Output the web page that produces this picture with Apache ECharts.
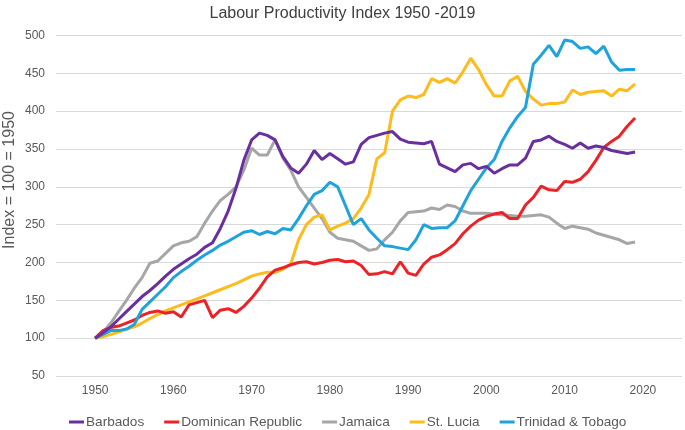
<!DOCTYPE html>
<html><head><meta charset="utf-8">
<script src="https://cdn.jsdelivr.net/npm/echarts@6/dist/echarts.min.js"></script>
<style>html,body{margin:0;padding:0;background:#fff}#c{width:685px;height:430px}</style>
</head><body><div id="c"></div>
<script>
const years = [];
for (let y = 1950; y <= 2019; y++) years.push(y);

const barbados = [100,107,115,125,135,145,155,163,172,182,191,198,205,211,220,226,245,268,298,335,362,371,368,362,340,325,318,330,348,336,344,337,330,333,356,365,368,371,373,363,359,358,357,360,330,325,320,329,331,324,327,318,324,329,329,338,360,362,367,360,356,351,358,351,354,352,348,346,344,346];
const dominican = [100,110,114,116,120,124,130,134,136,133,135,128,144,147,150,127,137,139,134,142,153,166,181,190,193,197,200,201,198,200,203,204,201,202,196,184,185,188,185,201,186,183,198,207,210,217,225,238,248,256,261,264,266,258,258,276,286,301,296,295,307,306,310,320,335,352,360,367,380,391];
const jamaica = [100,108,120,135,150,166,180,199,202,212,222,226,228,234,252,268,282,290,300,322,351,342,342,362,338,322,300,286,272,258,240,232,230,228,222,216,218,230,240,255,266,267,268,272,270,276,274,268,265,265,265,264,263,262,261,261,262,263,260,252,245,248,246,244,239,236,233,230,225,227];
const stlucia = [100,102,105,108,112,115,120,126,131,136,140,144,148,152,156,160,164,168,172,177,182,185,187,187,191,198,230,250,260,263,243,248,252,258,272,290,337,345,400,415,420,418,422,443,438,443,437,452,470,455,435,420,420,440,446,426,416,408,410,410,412,428,422,425,426,427,420,429,427,436];
const trinidad = [100,105,110,110,112,118,138,148,158,168,180,188,195,203,210,216,223,228,234,240,242,237,241,238,245,243,258,275,290,295,306,300,275,250,258,243,232,222,221,219,217,230,250,245,246,246,255,275,295,310,325,336,360,378,393,405,462,474,487,472,494,492,483,485,476,486,465,454,455,455];

const seriesNames = ['Barbados','Dominican Republic','Jamaica','St. Lucia','Trinidad & Tobago'];
const seriesData = [barbados, dominican, jamaica, stlucia, trinidad];
const colors = ['#6a2f9e','#ec2227','#a6a6a6','#fdbb1c','#1fa3db'];
const yTicks = {min: 50, max: 500, interval: 50};
const xTicks = {min: 1945, max: 2025, interval: 5};
const yTitle = 'Index = 100 = 1950';

const chart = echarts.init(document.getElementById('c'), null, {renderer: 'canvas'});
const FONT = 'Liberation Sans, Arial, sans-serif';
chart.setOption({
  animation: false,
  backgroundColor: '#fff',
  title: {
    text: 'Labour Productivity Index 1950 -2019',
    left: 'center', top: 1,
    textStyle: {fontFamily: FONT, fontSize: 16, fontWeight: 'normal', color: '#404040'}
  },
  graphic: [{
    type: 'text', x: 10, y: 180, rotation: Math.PI / 2,
    style: {text: yTitle, font: '16px ' + FONT, fill: '#595959', align: 'center', verticalAlign: 'middle'}
  }],
  legend: {
    top: 410, left: 64,
    icon: 'rect', itemWidth: 15, itemHeight: 3, itemGap: 20,
    textStyle: {fontFamily: FONT, fontSize: 13.6, color: '#595959', padding: [0,0,0,-3]},
    data: seriesNames
  },
  grid: {left: 56, right: 3, top: 35.5, bottom: 54, containLabel: false, outerBoundsMode: 'none'},
  xAxis: {
    type: 'value', min: xTicks.min, max: xTicks.max, interval: xTicks.interval,
    axisLine: {show: false},
    axisTick: {show: false},
    splitLine: {show: false},
    axisLabel: {
      fontFamily: FONT, fontSize: 12, color: '#595959', margin: 9,
      formatter: v => (v % 10 === 0 && v >= 1950 && v <= 2020) ? String(v) : ''
    }
  },
  yAxis: {
    type: 'value', min: yTicks.min, max: yTicks.max, interval: yTicks.interval,
    axisLine: {show: false}, axisTick: {show: false},
    axisLabel: {fontFamily: FONT, fontSize: 12, color: '#595959', margin: 11},
    splitLine: {lineStyle: {color: '#d9d9d9', width: 1}}
  },
  series: seriesNames.map((n, i) => ({
    name: n, type: 'line', showSymbol: false, symbol: 'none',
    data: years.map((y, k) => [y, seriesData[i][k]]),
    lineStyle: {color: colors[i], width: 3},
    itemStyle: {color: colors[i]},
    z: [5,3,1,2,4][i]
  }))
});
</script></body></html>
